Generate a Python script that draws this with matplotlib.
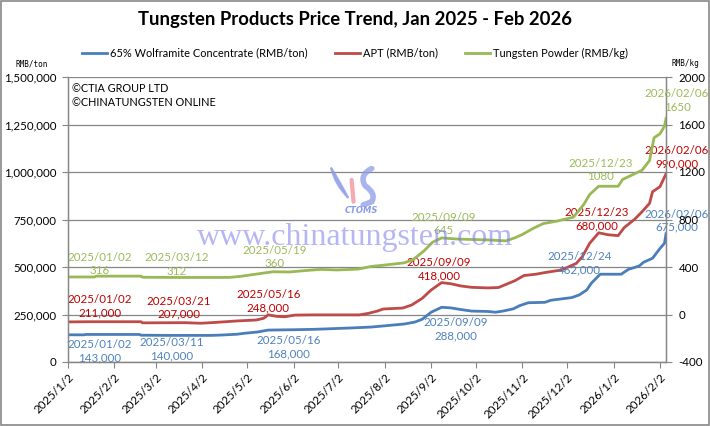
import datetime as dt
import matplotlib
matplotlib.use("Agg")
import matplotlib.pyplot as plt
from matplotlib.path import Path
from matplotlib.patches import PathPatch, Rectangle

# ---------------- data ----------------
title = "Tungsten Products Price Trend, Jan 2025 - Feb 2026"
series_names = ["65% Wolframite Concentrate (RMB/ton)", "APT (RMB/ton)", "Tungsten Powder (RMB/kg)"]

wolf_dates = ["2025-01-02", "2025-01-13", "2025-01-14", "2025-02-19", "2025-02-20", "2025-03-11",
              "2025-04-08", "2025-04-15", "2025-04-25", "2025-04-30", "2025-05-09", "2025-05-16",
              "2025-06-03", "2025-06-16", "2025-07-10", "2025-07-24", "2025-07-31", "2025-08-15",
              "2025-08-22", "2025-08-27", "2025-09-02", "2025-09-09", "2025-09-15", "2025-09-22",
              "2025-09-29", "2025-10-10", "2025-10-15", "2025-10-20", "2025-10-27", "2025-10-31",
              "2025-11-06", "2025-11-17", "2025-11-21", "2025-12-05", "2025-12-10", "2025-12-15",
              "2025-12-18", "2025-12-24", "2026-01-07", "2026-01-12", "2026-01-19", "2026-01-22",
              "2026-01-28", "2026-02-02", "2026-02-05", "2026-02-06"]
wolf_values = [143000, 143000, 145000, 145000, 141000, 140000,
               140000, 142000, 146000, 151000, 158000, 168000,
               170000, 172000, 179000, 184000, 189000, 200000,
               210000, 225000, 262000, 288000, 285000, 276000,
               268000, 266000, 262000, 268000, 280000, 296000,
               312000, 314000, 325000, 339000, 353000, 379000,
               414000, 462000, 462000, 488000, 505000, 525000,
               546000, 598000, 625000, 675000]

apt_dates = ["2025-01-02", "2025-01-17", "2025-02-20", "2025-02-21", "2025-03-21", "2025-04-01",
             "2025-04-08", "2025-04-14", "2025-04-25", "2025-05-08", "2025-05-13", "2025-05-16",
             "2025-05-22", "2025-05-27", "2025-06-03", "2025-06-15", "2025-07-16", "2025-07-22",
             "2025-07-28", "2025-08-01", "2025-08-14", "2025-08-20", "2025-08-27", "2025-09-02",
             "2025-09-09", "2025-09-15", "2025-09-22", "2025-09-29", "2025-10-10", "2025-10-17",
             "2025-10-21", "2025-10-28", "2025-11-03", "2025-11-11", "2025-11-18", "2025-11-28",
             "2025-12-08", "2025-12-12", "2025-12-17", "2025-12-23", "2025-12-29", "2026-01-05",
             "2026-01-09", "2026-01-16", "2026-01-21", "2026-01-26", "2026-01-28", "2026-02-02",
             "2026-02-06"]
apt_values = [211000, 212000, 212000, 206000, 207000, 204000,
              207000, 210000, 216000, 221000, 230000, 248000,
              240000, 238000, 247000, 248000, 248000, 256000,
              268000, 279000, 284000, 300000, 335000, 379000,
              418000, 412000, 400000, 393000, 390000, 392000,
              405000, 428000, 455000, 462000, 472000, 484000,
              519000, 554000, 625000, 680000, 670000, 665000,
              707000, 751000, 791000, 835000, 896000, 923000,
              990000]

powder_dates = ["2025-01-02", "2025-01-20", "2025-01-21", "2025-02-20", "2025-02-21", "2025-03-12",
                "2025-04-20", "2025-04-28", "2025-05-08", "2025-05-19", "2025-05-30", "2025-06-10",
                "2025-06-20", "2025-07-01", "2025-07-15", "2025-07-24", "2025-08-01", "2025-08-15",
                "2025-08-21", "2025-08-28", "2025-09-03", "2025-09-09", "2025-09-20", "2025-10-10",
                "2025-10-22", "2025-10-28", "2025-11-02", "2025-11-09", "2025-11-16", "2025-11-25",
                "2025-12-06", "2025-12-13", "2025-12-17", "2025-12-23", "2026-01-05", "2026-01-08",
                "2026-01-14", "2026-01-21", "2026-01-26", "2026-01-29", "2026-02-02", "2026-02-05",
                "2026-02-06"]
powder_values = [316, 316, 323, 323, 314, 312,
                 312, 322, 340, 360, 358, 370,
                 380, 375, 382, 405, 415, 435,
                 463, 533, 609, 645, 635, 628,
                 620, 646, 674, 724, 766, 786,
                 819, 926, 1011, 1080, 1080, 1137,
                 1173, 1215, 1297, 1488, 1522, 1586,
                 1650]

wolf_label_dates = ["2025-01-02", "2025-03-11", "2025-05-16", "2025-09-09", "2025-12-24", "2026-02-06"]
wolf_label_values = [143000, 140000, 168000, 288000, 462000, 675000]
apt_label_dates = ["2025-01-02", "2025-03-21", "2025-05-16", "2025-09-09", "2025-12-23", "2026-02-06"]
apt_label_values = [211000, 207000, 248000, 418000, 680000, 990000]
powder_label_dates = ["2025-01-02", "2025-03-12", "2025-05-19", "2025-09-09", "2025-12-23", "2026-02-06"]
powder_label_values = [316, 312, 360, 645, 1080, 1650]

left_ticks = [0, 250000, 500000, 750000, 1000000, 1250000, 1500000]
right_ticks = [-400, 0, 400, 800, 1200, 1600, 2000]
x_tick_dates = ["2025-01-02", "2025-02-02", "2025-03-02", "2025-04-02", "2025-05-02", "2025-06-02",
                "2025-07-02", "2025-08-02", "2025-09-02", "2025-10-02", "2025-11-02", "2025-12-02",
                "2026-01-02", "2026-02-02"]
x_start, x_end = "2025-01-02", "2026-02-06"
left_unit, right_unit = "RMB/ton", "RMB/kg"
copyright_lines = ["\u00a9CTIA GROUP LTD", "\u00a9CHINATUNGSTEN ONLINE"]
watermark = "www.chinatungsten.com"
logo_text = "CTOMS"

# ---------------- style ----------------
FONT = ["Lato", "DejaVu Sans"]
plt.rcParams["font.family"] = FONT
BLUE, RED, GREEN = "#4A7EBB", "#BE4B48", "#98B954"
BLUE_T, RED_T, GREEN_T = "#4F81BD", "#C00000", "#9BBB59"
GRID = "#868686"
LBL_FS = 8.3

# label offsets in pixels (dx, dy up)
wolf_off = [(32, -16), (2, -14), (20, -17), (14, -22), (-21, 11), (11, 13)]
apt_off = [(32, 15.5), (-5.5, 15), (0, 13.7), (-2.7, 13), (-2, 13.3), (11, 17)]
powder_off = [(32, 13), (6, 13), (2, 15), (2, 14), (1.5, 16), (11, 18)]


def d(s):
    return dt.datetime.strptime(s, "%Y-%m-%d")


def tick_label(s):
    t = d(s)
    return f"{t.year}/{t.month}/{t.day}"


fig = plt.figure(figsize=(7.1, 4.26), dpi=100)
ax = fig.add_axes([67.7 / 710, 1 - 362 / 426, (666 - 67.7) / 710, (362 - 77) / 426])
ax2 = ax.twinx()

l1, = ax.plot([d(s) for s in wolf_dates], wolf_values, color=BLUE, lw=2.0, solid_joinstyle="round")
l2, = ax.plot([d(s) for s in apt_dates], apt_values, color=RED, lw=2.0, solid_joinstyle="round")
l3, = ax2.plot([d(s) for s in powder_dates], powder_values, color=GREEN, lw=2.0, solid_joinstyle="round")

ax.set_xlim(d(x_start), d(x_end))
ax.set_ylim(left_ticks[0], left_ticks[-1])
ax2.set_ylim(right_ticks[0], right_ticks[-1])
ax.set_yticks(left_ticks)
ax.set_yticklabels([f"{v:,}" for v in left_ticks])
ax2.set_yticks(right_ticks)
ax2.set_yticklabels([str(v) for v in right_ticks])
ax.set_xticks([d(s) for s in x_tick_dates])
ax.set_xticklabels([tick_label(s) for s in x_tick_dates], rotation=45, ha="right", va="top",
                   rotation_mode="anchor")

ax.yaxis.grid(True, color=GRID, lw=0.9)
ax.set_axisbelow(True)
for a in (ax, ax2):
    a.spines["top"].set_visible(False)
    for sp in ("left", "right", "bottom"):
        a.spines[sp].set_color(GRID)
        a.spines[sp].set_linewidth(0.9)
ax.tick_params(axis="y", direction="out", length=4, color=GRID, labelsize=8.3, pad=4)
ax2.tick_params(axis="y", direction="out", length=4, color=GRID, labelsize=8.3, pad=5)
ax.tick_params(axis="x", direction="out", length=4, color=GRID, labelsize=8.3, pad=3)


def put_labels(axis, dates, values, offs, color, fmt):
    for s, v, (dx, dy) in zip(dates, values, offs):
        txt = s.replace("-", "/") + "\n" + fmt(v)
        axis.annotate(txt, xy=(d(s), v), xytext=(dx, dy), textcoords="offset pixels",
                      ha="center", va="center", color=color, fontsize=LBL_FS,
                      linespacing=1.25, annotation_clip=False, zorder=5)


put_labels(ax, wolf_label_dates, wolf_label_values, wolf_off, BLUE_T, lambda v: f"{v:,}")
put_labels(ax, apt_label_dates, apt_label_values, apt_off, RED_T, lambda v: f"{v:,}")
put_labels(ax2, powder_label_dates, powder_label_values, powder_off, GREEN_T, lambda v: f"{v}")

# title and legend
fig.text(0.5, 1 - 20 / 426, title, ha="center", va="center", fontsize=13.3, fontweight="bold")
fig.legend([l1, l2, l3], series_names, loc="center", bbox_to_anchor=(0.5, 1 - 53 / 426), ncol=3,
           frameon=False, fontsize=7.9, handlelength=2.3, handletextpad=0.25, columnspacing=2.5)

# units & copyright
fig.text(15 / 710, 1 - 64 / 426, left_unit, fontsize=5.5, family="DejaVu Sans Mono", va="center")
fig.text(672 / 710, 1 - 64 / 426, right_unit, fontsize=5.5, family="DejaVu Sans Mono", va="center")
for i, line in enumerate(copyright_lines):
    fig.text(72 / 710, 1 - (88 + 15 * i) / 426, line, fontsize=7.8, va="center")

# watermark
fig.text(355 / 710, 1 - 238 / 426, watermark, ha="center", va="center", fontsize=23,
         family="Liberation Serif", color="#7B7BEE", alpha=0.55, zorder=10)

# logo
lax = fig.add_axes([330 / 710, 1 - 207 / 426, 48 / 710, 41 / 426])
lax.set_xlim(0, 1)
lax.set_ylim(0, 1)
lax.axis("off")
left_c = Path([(0.02, 0.96), (0.10, 0.55), (0.38, 0.22), (0.22, 0.60), (0.02, 0.96)],
              [Path.MOVETO, Path.CURVE3, Path.CURVE3, Path.CURVE3, Path.CURVE3])
lax.add_patch(PathPatch(left_c, fc="#8C9BE8", ec="#8C9BE8", lw=1.5, alpha=0.75))
mid_c = Path([(0.45, 0.66), (0.49, 0.13)], [Path.MOVETO, Path.LINETO])
lax.add_patch(PathPatch(mid_c, fill=False, ec="#F4A0A8", lw=3, alpha=0.9, capstyle="round"))
s_c = Path([(0.87, 0.94), (0.60, 0.78), (0.73, 0.52), (0.97, 0.33), (0.87, 0.13), (0.69, 0.05)],
           [Path.MOVETO, Path.CURVE3, Path.CURVE3, Path.CURVE3, Path.CURVE3, Path.LINETO])
lax.add_patch(PathPatch(s_c, fill=False, ec="#8C9BE8", lw=4, alpha=0.75, capstyle="round"))
fig.text(361.7 / 710, 1 - 211 / 426, logo_text, ha="center", va="center", fontsize=6,
         fontstyle="italic", fontweight="bold", color="#8C9BE8", family="DejaVu Sans")

fig.patches.append(Rectangle((0.001, 0.002), 0.997, 0.996, transform=fig.transFigure, fill=False,
                             ec="#888888", lw=1.2))

fig.savefig("out.png", dpi=100)
